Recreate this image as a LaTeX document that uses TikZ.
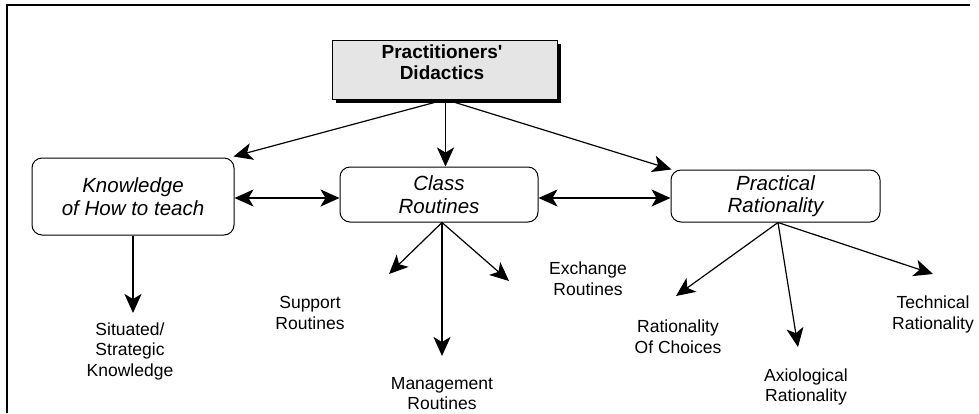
\documentclass[tikz,border=0pt]{standalone}
\usepackage{fontspec}
\setmainfont{Liberation Sans}
\usetikzlibrary{arrows.meta,shadows}
\begin{document}
\begin{tikzpicture}[x=1pt,y=-1pt,
  tip/.style={-{Stealth[length=19pt 0,width=17pt 0,inset=5pt 0]}},
  dtip/.style={{Stealth[length=19pt 0,width=17pt 0,inset=5pt 0]}-{Stealth[length=19pt 0,width=17pt 0,inset=5pt 0]}},
  thick line/.style={line width=1.9pt},
  thin line/.style={line width=1.2pt},
  rbox/.style={draw,line width=1pt,rounded corners=10pt,align=center,inner sep=0pt,
    font=\fontsize{20.5}{22.5}\selectfont\itshape},
  lbl/.style={align=center,inner sep=0pt,font=\fontsize{17.5}{20.5}\selectfont},
  topbox/.style={draw,line width=1pt,fill=black!10,inner sep=0pt,
    drop shadow={shadow xshift=4pt,shadow yshift=-4pt,opacity=1,fill=black}},
  toptext/.style={align=center,inner sep=0pt,font=\fontsize{19}{21}\selectfont\bfseries}
]
\useasboundingbox (0,0) rectangle (979,413);
\draw[line width=1.2pt] (7,413) -- (7,5) -- (970,5);

% main box
\node[topbox,minimum width=225pt,minimum height=59pt] (top) at (444.5,69.5) {};
\node[toptext] (toptxt) at (442,62) {Practitioners\textquotesingle\\Didactics};

% three boxes
\node[rbox,minimum width=202pt,minimum height=77pt] (know) at (133,196.5) {Knowledge\\of How to teach};
\node[rbox,minimum width=198pt,minimum height=55pt] (class) at (439,194.5) {Class\\Routines};
\node[rbox,minimum width=209pt,minimum height=52pt] (prac) at (775.5,196) {Practical\\Rationality};

% labels
\node[lbl] (sit) at (130,351) {Situated/\\Strategic\\Knowledge};
\node[lbl] (sup) at (310,313) {Support\\Routines};
\node[lbl] (man) at (442,393.5) {Management\\Routines};
\node[lbl] (exc) at (588,278.5) {Exchange\\Routines};
\node[lbl] (roc) at (678,336.5) {Rationality\\Of Choices};
\node[lbl] (axi) at (806,387) {Axiological\\Rationality};
\node[lbl] (tec) at (933,314.5) {Technical\\Rationality};

% arrow end points
\coordinate (esit) at (133,313);
\coordinate (esup) at (389,274);
\coordinate (eman) at (442,356);
\coordinate (eexc) at (509,281);
\coordinate (eroc) at (676,296);
\coordinate (eaxi) at (798,347);
\coordinate (etec) at (933,274);

% connectors from top
\draw[tip,thin line] ([xshift=1pt]top.south) -- ([xshift=-1pt,yshift=1pt]know.north east);
\draw[tip,thick line] ([xshift=1pt]top.south) -- ([xshift=1pt]top.south |- class.north);
\draw[tip,thin line] ([xshift=1pt]top.south) -- ([xshift=1pt]prac.north west);

% double arrows
\draw[dtip,thick line] (know.east |- 0,198) -- (class.west |- 0,198);
\draw[dtip,thick line] (class.east |- 0,198) -- (prac.west |- 0,198);

% downward
\draw[tip,thick line] (know.south) -- (esit);
\draw[tip,thin line] ([xshift=3pt]class.south) -- (esup);
\draw[tip,thick line] ([xshift=3pt]class.south) -- (eman);
\draw[tip,thin line] ([xshift=3pt]class.south) -- (eexc);
\draw[tip,thin line] ([xshift=2.5pt]prac.south) -- (eroc);
\draw[tip,thin line] ([xshift=2.5pt]prac.south) -- (eaxi);
\draw[tip,thin line] ([xshift=2.5pt]prac.south) -- (etec);
\end{tikzpicture}
\end{document}
